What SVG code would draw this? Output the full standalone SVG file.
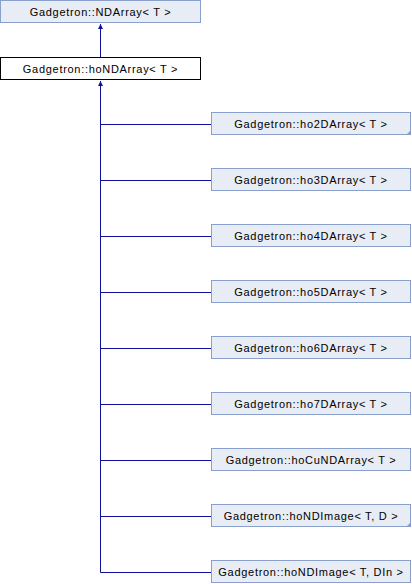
<svg xmlns="http://www.w3.org/2000/svg" width="412" height="584" viewBox="0 0 412 584">
<style>
.n{fill:#e8ecf5;stroke:#8aa0cc;stroke-width:1}
.w{fill:#ffffff;stroke:#000000;stroke-width:1}
.t{font-family:"Liberation Sans",Arial,sans-serif;font-size:11px;letter-spacing:0.7px;fill:#000;text-anchor:middle}
.e{stroke:#10109a;stroke-width:1;fill:none}
.tri{fill:#8aa0cc}
</style>
<defs>
<marker id="ah" markerWidth="6" markerHeight="6" refX="5" refY="3" orient="auto" markerUnits="userSpaceOnUse">
<path d="M0,0.5 L5,3 L0,5.5 Z" fill="#10109a"/>
</marker>
</defs>
<rect width="412" height="584" fill="#ffffff"/>
<g id="edges">
<path class="e" d="M100.5,57 L100.5,24" marker-end="url(#ah)"/>
<path class="e" d="M100.5,572.5 L100.5,81" marker-end="url(#ah)"/>
<path class="e" d="M100.5,124.5 L211,124.5"/>
<path class="e" d="M100.5,180.5 L211,180.5"/>
<path class="e" d="M100.5,236.5 L211,236.5"/>
<path class="e" d="M100.5,292.5 L211,292.5"/>
<path class="e" d="M100.5,348.5 L211,348.5"/>
<path class="e" d="M100.5,404.5 L211,404.5"/>
<path class="e" d="M100.5,460.5 L211,460.5"/>
<path class="e" d="M100.5,516.5 L211,516.5"/>
<path class="e" d="M100.5,572.5 L211,572.5"/>
</g>
<g id="NDArray"><rect class="n" x="0.5" y="0.5" width="200" height="22"/><text class="t" x="100.5" y="16">Gadgetron::NDArray&lt; T &gt;</text></g>
<g id="hoNDArray"><rect class="w" x="0.5" y="57.5" width="200" height="22"/><text class="t" x="100.5" y="73">Gadgetron::hoNDArray&lt; T &gt;</text></g>
<g id="ho2DArray"><rect class="n" x="211.5" y="112.5" width="199" height="22"/><path class="tri" d="M411,130 L411,135 L406,135 Z"/><text class="t" x="311" y="128">Gadgetron::ho2DArray&lt; T &gt;</text></g>
<g id="ho3DArray"><rect class="n" x="211.5" y="168.5" width="199" height="22"/><text class="t" x="311" y="184">Gadgetron::ho3DArray&lt; T &gt;</text></g>
<g id="ho4DArray"><rect class="n" x="211.5" y="224.5" width="199" height="22"/><text class="t" x="311" y="240">Gadgetron::ho4DArray&lt; T &gt;</text></g>
<g id="ho5DArray"><rect class="n" x="211.5" y="280.5" width="199" height="22"/><text class="t" x="311" y="296">Gadgetron::ho5DArray&lt; T &gt;</text></g>
<g id="ho6DArray"><rect class="n" x="211.5" y="336.5" width="199" height="22"/><text class="t" x="311" y="352">Gadgetron::ho6DArray&lt; T &gt;</text></g>
<g id="ho7DArray"><rect class="n" x="211.5" y="392.5" width="199" height="22"/><text class="t" x="311" y="408">Gadgetron::ho7DArray&lt; T &gt;</text></g>
<g id="hoCuNDArray"><rect class="n" x="211.5" y="448.5" width="199" height="22"/><text class="t" x="311" y="464">Gadgetron::hoCuNDArray&lt; T &gt;</text></g>
<g id="hoNDImageTD"><rect class="n" x="211.5" y="504.5" width="199" height="22"/><path class="tri" d="M411,522 L411,527 L406,527 Z"/><text class="t" x="311" y="520">Gadgetron::hoNDImage&lt; T, D &gt;</text></g>
<g id="hoNDImageTDIn"><rect class="n" x="211.5" y="560.5" width="199" height="22"/><text class="t" x="311" y="576">Gadgetron::hoNDImage&lt; T, DIn &gt;</text></g>
</svg>
